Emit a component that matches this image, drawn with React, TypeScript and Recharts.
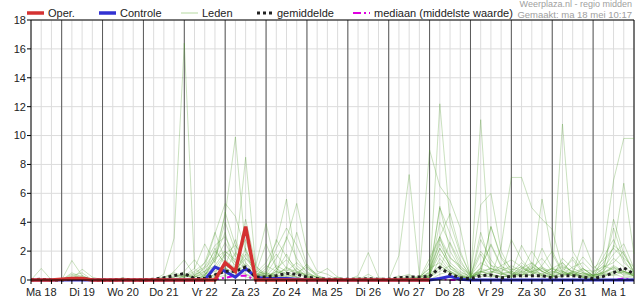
import React from 'react';
import { LineChart, Line, XAxis, YAxis, CartesianGrid, ReferenceLine } from 'recharts';

// 6-hourly steps from Ma 18 06:00 to Di 2 00:00 (index 0..59)
const dayLabels = ['Ma 18', 'Di 19', 'Wo 20', 'Do 21', 'Vr 22', 'Za 23', 'Zo 24', 'Ma 25', 'Di 26', 'Wo 27', 'Do 28', 'Vr 29', 'Za 30', 'Zo 31', 'Ma 1'];
const yTicks = [0, 2, 4, 6, 8, 10, 12, 14, 16, 18];

const oper = [0, 0, 0, 0.05, 0.1, 0.1, 0, 0, 0, 0, 0, 0, 0, 0, 0, 0, 0, 0, 0, 1.2, 0.6, 3.7, 0, 0, 0, 0, 0, 0, 0, 0, 0, 0, 0, 0, 0, 0, 0, 0, 0, 0,
  null, null, null, null, null, null, null, null, null, null, null, null, null, null, null, null, null, null, null, null];
const controle = [0, 0, 0, 0, 0, 0, 0, 0, 0, 0, 0, 0, 0, 0, 0, 0, 0, 0, 0.9, 0.6, 0.2, 0.8, 0.2, 0.1, 0.1, 0.1, 0.05, 0, 0, 0, 0, 0, 0, 0, 0, 0, 0, 0, 0,
  0, 0.1, 0.25, 0.05, 0, 0, 0, 0, 0, 0, 0, 0, 0, 0, 0, 0, 0, 0, 0, 0, 0];
const gemiddelde = [0, 0.05, 0, 0, 0.1, 0.1, 0, 0, 0, 0.05, 0, 0, 0.05, 0.15, 0.3, 0.45, 0.1, 0.1, 0.35, 0.6, 0.6, 0.9, 0.2, 0.2, 0.3, 0.45, 0.4,
  0.2, 0.1, 0.05, 0.05, 0.05, 0.05, 0.1, 0.05, 0.05, 0.15, 0.2, 0.2, 0.25, 0.85, 0.4, 0.15, 0.1, 0.3, 0.35, 0.15, 0.25, 0.3, 0.3, 0.3,
  0.15, 0.3, 0.3, 0.2, 0.1, 0.25, 0.5, 0.85, 0.4];
const mediaan = [0, 0, 0, 0, 0, 0, 0, 0, 0, 0, 0, 0, 0, 0, 0, 0, 0, 0, 0.05, 0.15, 0.3, 0.3, 0, 0, 0, 0.05, 0, 0, 0, 0, 0, 0, 0, 0, 0, 0, 0, 0, 0,
  0, 0.1, 0, 0, 0, 0, 0, 0, 0, 0, 0, 0, 0, 0, 0, 0, 0, 0, 0, 0.1, 0];

// ensemble members (Leden)
const lid01 = [0, 0, 0, 0, 0.2, 0, 0, 0, 0, 0, 0, 0, 0, 0.4, 2.9, 16.4, 0.8, 0.2, 1.5, 2.0, 1.2, 0.4, 0, 0.3, 1.0, 0.6, 0.2, 0, 0.1, 0, 0, 0, 0, 0, 0, 0, 0, 0, 0.1, 0.5, 2.2, 1.0, 0.3, 0, 0.8, 2.5, 1.0, 0.4, 0.3, 1.2, 0.6, 0.2, 0.5, 0.3, 0.8, 0.3, 0.6, 1.5, 0.9, 0.4];
const lid02 = [0, 0.8, 0, 0, 0.4, 0.1, 0, 0, 0, 0, 0, 0, 0, 0, 0.2, 0.5, 0, 0.3, 1.8, 4.5, 9.9, 2.0, 0.3, 0.5, 0.2, 0, 0.4, 1.1, 0.3, 0, 0, 0, 0, 0.2, 0, 0, 0.3, 0, 0, 0, 1.5, 0.6, 0.2, 0.1, 2.8, 1.4, 0.5, 0.2, 0.6, 0.3, 2.2, 0.8, 1.2, 0.4, 0.2, 0.1, 0.5, 2.4, 1.8, 0.6];
const lid03 = [0, 0, 0, 0, 1.35, 0.3, 0, 0, 0, 0, 0, 0, 0, 0, 0, 0.3, 0.6, 1.2, 2.4, 3.0, 1.6, 8.5, 0.8, 0.2, 0.6, 1.8, 0.5, 0.2, 0, 0, 0, 0, 0, 0, 0, 0, 0, 0.2, 0, 1.2, 3.0, 0.8, 0.4, 0, 0.6, 0.4, 0.2, 0.3, 1.0, 0.5, 0.3, 0.2, 1.5, 0.8, 0.5, 0.2, 0.4, 0.9, 0.3, 0.2];
const lid04 = [0, 0, 0, 0, 0, 0.75, 0.2, 0, 0, 0, 0, 0, 0, 0, 0, 0, 0.2, 0.9, 3.2, 5.3, 4.4, 2.0, 1.0, 3.9, 0.8, 0.2, 0, 0, 0, 0, 0.2, 0, 0, 0, 0, 0, 0, 0.1, 0.3, 9.0, 6.5, 5.5, 3.6, 0.2, 0.5, 0.8, 0.4, 0.6, 0.2, 0.4, 0.8, 0.3, 0.2, 0.6, 0.4, 0.5, 1.2, 2.2, 1.5, 0.9];
const lid05 = [0, 0, 0, 0, 0.3, 0.5, 0, 0, 0, 0.1, 0, 0, 0, 0, 0.6, 1.4, 0.3, 0, 0.4, 1.8, 1.0, 0.6, 0.5, 1.2, 2.6, 5.6, 1.0, 0.4, 0.2, 0, 0, 0, 0, 0, 0, 0, 0, 0, 0, 0.2, 1.0, 0.5, 0.2, 0, 11.1, 0.5, 0.8, 0.4, 0.6, 1.0, 0.3, 0.2, 0.3, 0.5, 0.2, 0.1, 0.2, 0.6, 0.4, 0.3];
const lid06 = [0, 0, 0, 0, 0, 0, 0, 0, 0, 0, 0, 0, 0, 0.2, 0.5, 0.3, 0.8, 2.5, 1.2, 4.7, 2.4, 1.5, 0.9, 0.4, 1.5, 2.8, 5.3, 2.0, 0.6, 0.4, 0, 0, 0, 0, 0, 0, 0, 0, 0, 0.3, 5.1, 2.0, 0.8, 0.1, 0.4, 0.2, 2.3, 7.1, 7.1, 5.0, 4.2, 3.5, 0.8, 0.4, 0.3, 0.2, 0.4, 0.3, 0.6, 0.4];
const lid07 = [0, 0, 0, 0, 0, 0, 0, 0, 0, 0, 0, 0, 0, 0, 0, 0, 0, 0.4, 1.0, 0.6, 0.3, 2.2, 0.4, 0.3, 0.4, 0.8, 3.3, 1.0, 0.2, 0, 0, 0, 0, 0, 0, 0, 1.7, 7.3, 0.3, 0, 0.4, 0.6, 0.2, 0.2, 0.5, 3.7, 1.5, 0.5, 0.3, 0.6, 0.4, 0.8, 0.3, 0.6, 0.2, 0.1, 0.3, 0.4, 0.2, 0.1];
const lid08 = [0, 0, 0, 0, 0, 0, 0, 0, 0, 0, 0, 0, 0, 0, 0.3, 0.2, 0.5, 0.9, 2.0, 1.2, 0.6, 1.8, 0.3, 0.1, 0.3, 0.2, 0.1, 0, 0, 0, 0, 0, 0, 0, 0, 0, 0, 0, 0, 0.2, 12.2, 4.0, 1.8, 0.4, 0.6, 0.3, 0.2, 0.3, 0.5, 0.8, 0.4, 0.2, 0.6, 0.3, 0.2, 0.4, 0.3, 0.5, 0.6, 0.4];
const lid09 = [0, 0, 0, 0, 0, 0, 0, 0, 0, 0, 0, 0, 0, 0, 0, 0, 0, 0, 0.2, 0.8, 0.5, 3.5, 0.2, 0, 0.8, 1.4, 0.6, 0.3, 0, 0, 0, 0, 0.2, 0, 0, 0, 0, 0, 0.2, 0.5, 3.0, 4.6, 2.0, 0.3, 0.2, 0.6, 0.4, 0.2, 0.8, 1.2, 0.6, 0.3, 10.8, 2.0, 0.8, 0.3, 0.5, 0.8, 0.6, 0.3];
const lid10 = [0, 0, 0, 0, 0, 0, 0, 0, 0, 0, 0, 0, 0, 0, 0, 0, 0, 0.3, 0.6, 1.0, 2.8, 0.8, 0.2, 0.4, 0.2, 0.6, 1.2, 0.6, 0.1, 0, 0, 0, 0, 0, 0, 0, 0, 0, 0.2, 0.8, 2.5, 1.2, 0.6, 0.2, 1.8, 0.6, 0.4, 0.4, 0.8, 0.5, 0.3, 0.6, 0.4, 0.9, 1.2, 0.5, 2.0, 6.9, 9.8, 9.8];
const lid11 = [0, 0, 0, 0, 0, 0.2, 0, 0, 0, 0, 0, 0, 0, 0, 0, 0.2, 0.4, 0.6, 1.3, 2.6, 1.2, 0.9, 0.4, 0.2, 0.6, 0.3, 0.2, 0, 0, 0, 0, 0, 0, 0, 0, 0, 0, 0, 0, 0.4, 1.8, 0.8, 0.3, 0.1, 3.3, 1.0, 0.5, 0.5, 1.2, 0.6, 0.8, 0.4, 0.9, 0.6, 1.6, 0.8, 1.4, 2.2, 6.7, 1.8];
const lid12 = [0, 0, 0, 0, 0, 0, 0, 0, 0, 0, 0, 0, 0, 0, 0, 0, 0.3, 0.8, 1.6, 3.3, 0.6, 1.1, 0.4, 0.6, 2.2, 3.6, 2.4, 0.8, 0.3, 0.1, 0, 0, 0, 0, 0, 0, 0, 0, 0.1, 0.6, 5.0, 3.2, 1.4, 0.2, 0.8, 0.5, 1.0, 1.4, 0.9, 0.5, 5.6, 1.8, 0.5, 0.4, 0.2, 0.3, 0.5, 1.0, 0.6, 0.3];
const lid13 = [0, 0, 0, 0, 0.5, 0.2, 0, 0, 0, 0, 0, 0, 0, 0.2, 0.4, 0.2, 0.3, 1.2, 3.3, 1.4, 0.8, 4.2, 1.0, 0.2, 0.3, 0.9, 0.4, 0.2, 0, 0, 0, 0, 0, 0, 0, 0, 0, 0, 0, 0.3, 4.0, 2.5, 0.9, 0.4, 5.2, 6.0, 2.0, 0.6, 0.4, 0.3, 0.2, 0.4, 1.2, 0.5, 0.8, 0.3, 0.8, 1.8, 2.5, 0.8];
const lid14 = [0, 0, 0, 0, 0, 0, 0, 0, 0, 0, 0, 0, 0, 0, 0, 0.6, 1.4, 0.5, 0.2, 0.3, 0.6, 0.4, 0.2, 0.8, 1.8, 0.8, 0.6, 0.3, 0.1, 0, 0, 0, 0, 0, 0, 0, 0, 0.3, 0.1, 1.5, 3.0, 1.6, 0.8, 0.3, 0.4, 0.2, 0.3, 2.8, 1.4, 0.6, 0.4, 0.8, 0.6, 0.4, 2.8, 1.0, 0.4, 0.6, 0.5, 0.3];
const lid15 = [0, 0, 0, 0, 0, 0, 0, 0, 0, 0.15, 0, 0, 0, 0, 0, 0, 0, 0.2, 0.8, 1.8, 2.4, 1.2, 0.5, 2.5, 0.8, 0.4, 0.2, 0, 0, 0, 0, 0, 0, 0, 0, 0, 0, 0, 0.2, 0.8, 1.2, 0.6, 0.3, 0.2, 0.5, 3.7, 1.6, 0.8, 0.5, 0.9, 0.6, 0.3, 0.7, 1.4, 0.5, 0.2, 0.6, 4.2, 1.8, 0.5];
const lid16 = [0, 0, 0, 0, 0, 0, 0, 0, 0, 0, 0, 0, 0, 0, 0, 0, 0, 0, 0.4, 0.8, 0.4, 0.2, 0.1, 0.3, 0.5, 0.7, 0.5, 0.9, 0.4, 0.8, 0.2, 0, 0.3, 1.9, 0.2, 0, 0, 0.2, 0, 0.3, 2.2, 1.0, 0.4, 0.2, 0.6, 0.4, 0.2, 0.3, 0.4, 0.6, 0.9, 0.3, 0.4, 0.5, 0.3, 0.4, 1.0, 0.7, 0.5, 0.3];
const lid17 = [0, 0, 0, 0, 0, 0, 0, 0, 0, 0, 0, 0, 0, 0, 0.2, 0.4, 0.2, 0.5, 2.2, 1.0, 0.7, 1.5, 0.6, 0.4, 2.8, 1.6, 0.8, 0.2, 0, 0, 0, 0, 0, 0, 0, 0, 0, 0, 0, 0.2, 0.8, 2.6, 1.2, 0.4, 2.0, 1.0, 0.8, 0.5, 2.4, 1.1, 0.6, 0.8, 0.5, 1.6, 0.6, 0.2, 1.6, 2.8, 1.2, 0.6];
const lid18 = [0, 0, 0, 0, 0, 0, 0, 0, 0, 0, 0, 0, 0, 0, 0, 0, 0.2, 0.6, 1.0, 2.0, 1.4, 2.8, 0.5, 0.2, 0.4, 3.0, 1.5, 0.5, 0.2, 0, 0, 0, 0, 0, 0, 0, 0, 0, 0, 0.4, 1.0, 0.5, 0.2, 0.1, 0.9, 2.4, 0.9, 0.7, 0.9, 0.4, 1.0, 2.0, 0.6, 0.3, 0.5, 0.3, 0.8, 3.6, 1.4, 0.4];
const lid19 = [0, 0, 0, 0, 0.2, 0.3, 0, 0, 0, 0, 0, 0, 0, 0, 0, 0.3, 0.2, 0.4, 0.8, 0.6, 1.9, 0.7, 0.2, 0.5, 0.3, 0.2, 0.5, 0.4, 0.2, 0, 0, 0, 0, 0.4, 0, 0, 0.2, 0.4, 0, 0.2, 0.6, 1.0, 0.5, 0.3, 0.6, 0.8, 0.5, 0.2, 0.3, 0.8, 1.5, 0.6, 0.4, 0.3, 0.7, 0.6, 0.9, 1.2, 2.0, 0.5];
const lid20 = [0, 0, 0, 0, 0, 0, 0, 0, 0, 0, 0, 0, 0, 0, 0, 0, 0, 0.3, 1.5, 4.0, 2.0, 0.9, 0.3, 1.0, 0.6, 0.4, 0.8, 0.3, 0, 0, 0, 0, 0, 0, 0, 0, 0, 0, 0, 0.3, 2.8, 1.5, 1.0, 0.3, 1.2, 0.8, 0.6, 1.0, 0.6, 2.0, 0.9, 0.5, 1.0, 0.6, 0.4, 0.3, 0.5, 0.9, 0.6, 0.3];

const leden = [lid01, lid02, lid03, lid04, lid05, lid06, lid07, lid08, lid09, lid10, lid11, lid12, lid13, lid14, lid15, lid16, lid17, lid18, lid19, lid20];

const rows = gemiddelde.map((g, i) => {
  const row: Record<string, number | null> = {
    i,
    oper: oper[i],
    controle: controle[i],
    gemiddelde: g,
    mediaan: mediaan[i],
  };
  leden.forEach((lid, k) => { row['lid' + k] = lid[i]; });
  return row;
});

const xTicks = gemiddelde.map((_, i) => i);
const dayLines = dayLabels.slice(1).map((_, k) => 3 + 4 * k);
const lastIndex = gemiddelde.length - 1;

const font = 'Arial, "Liberation Sans", sans-serif';

const LegendItem = ({ x, label, children }: { x: number; label: string; children: React.ReactNode }) => (
  <div style={{ position: 'absolute', left: x, top: 6, height: 14, display: 'flex', alignItems: 'center', gap: 4, fontSize: 11, color: '#222', whiteSpace: 'nowrap' }}>
    <svg width={17} height={6}>{children}</svg>
    <span>{label}</span>
  </div>
);

export default function App() {
  return (
    <div style={{ position: 'absolute', left: 0, top: 0, width: 635, height: 300, background: '#fff', fontFamily: font }}>
      <LineChart width={635} height={300} data={rows} margin={{ top: 20, right: 1, bottom: 0, left: 0 }}>
        <CartesianGrid stroke="#dcdcdc" />
        <XAxis
          dataKey="i"
          type="number"
          domain={[0, lastIndex]}
          ticks={xTicks}
          interval={0}
          height={20}
          tickSize={4}
          tickMargin={4}
          axisLine={{ stroke: '#000' }}
          tickLine={{ stroke: '#000' }}
          tick={{ fontSize: 11, fill: '#222', fontFamily: font }}
          tickFormatter={(v: number) => ((v - 1) % 4 === 0 ? dayLabels[(v - 1) / 4] : '')}
        />
        <YAxis
          domain={[0, 18]}
          ticks={yTicks}
          width={31}
          tickSize={4}
          tickMargin={1}
          axisLine={{ stroke: '#000' }}
          tickLine={{ stroke: '#000' }}
          tick={{ fontSize: 11, fill: '#222', fontFamily: font }}
        />
        {dayLines.map((d) => (
          <ReferenceLine key={d} x={d} stroke="#5a5a5a" />
        ))}
        <ReferenceLine y={18} stroke="#000" />
        <ReferenceLine x={lastIndex} stroke="#000" />
        {leden.map((_, k) => (
          <Line key={k} dataKey={'lid' + k} type="linear" stroke="#4f9a2a" strokeOpacity={0.3} strokeWidth={1} dot={false} isAnimationActive={false} />
        ))}
        <Line dataKey="mediaan" type="linear" stroke="#e000e0" strokeWidth={2} strokeDasharray="6 3 2 3" dot={false} isAnimationActive={false} />
        <Line dataKey="controle" type="linear" stroke="#3232d2" strokeWidth={3} dot={false} isAnimationActive={false} />
        <Line dataKey="gemiddelde" type="linear" stroke="#222" strokeWidth={3} strokeDasharray="3 3" dot={false} isAnimationActive={false} />
        <Line dataKey="oper" type="linear" stroke="#d43232" strokeWidth={3.5} dot={false} isAnimationActive={false} />
      </LineChart>

      <LegendItem x={27} label="Oper.">
        <line x1={0} y1={3} x2={17} y2={3} stroke="#d43232" strokeWidth={3.5} />
      </LegendItem>
      <LegendItem x={99} label="Controle">
        <line x1={0} y1={3} x2={17} y2={3} stroke="#3232d2" strokeWidth={3.5} />
      </LegendItem>
      <LegendItem x={181} label="Leden">
        <line x1={0} y1={3} x2={17} y2={3} stroke="#b5d9a0" strokeWidth={1} />
      </LegendItem>
      <LegendItem x={256} label="gemiddelde">
        <line x1={1} y1={3} x2={17} y2={3} stroke="#222" strokeWidth={3} strokeDasharray="3 3" />
      </LegendItem>
      <LegendItem x={353} label="mediaan (middelste waarde)">
        <line x1={0} y1={3} x2={17} y2={3} stroke="#e000e0" strokeWidth={2} strokeDasharray="8 3 2 3" />
      </LegendItem>

      <div style={{ position: 'absolute', right: 3, top: -1, fontSize: 9, color: '#a0a0a0', textAlign: 'right', lineHeight: '11px' }}>
        Weerplaza.nl - regio midden
      </div>
      <div style={{ position: 'absolute', right: 3, top: 9, fontSize: 9.5, color: '#a0a0a0', textAlign: 'right', lineHeight: '11px' }}>
        Gemaakt: ma 18 mei 10:17
      </div>
    </div>
  );
}
